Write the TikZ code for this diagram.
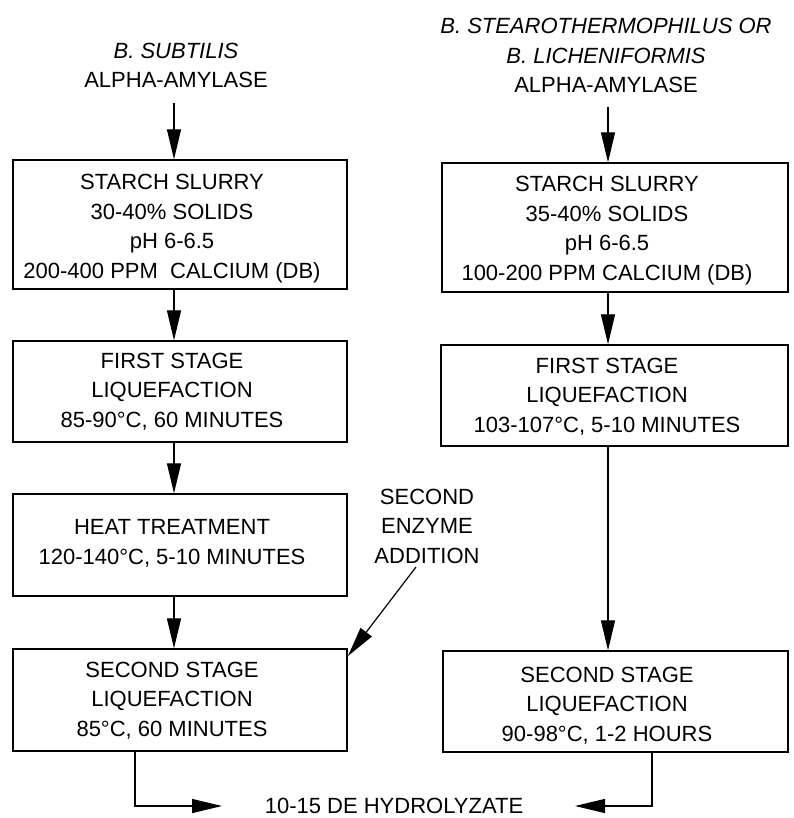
\documentclass[tikz,border=0pt]{standalone}
\usepackage{fontspec}
\setmainfont{Liberation Sans}
\usetikzlibrary{arrows.meta}
\begin{document}
\begin{tikzpicture}[x=1pt,y=-1pt,
  box/.style={draw, line width=1.3pt, inner sep=0pt},
  txt/.style={align=center, anchor=base, inner sep=0pt, font=\fontsize{22}{29.5}\selectfont},
  flow/.style={line width=1.2pt, -{Triangle[length=30pt,width=14pt]}}]
\useasboundingbox (0,0) rectangle (793,818);
% boxes
\node[box, minimum width=334pt, minimum height=129pt] (L1) at (180,224.5) {};
\node[box, minimum width=334pt, minimum height=101pt] (L2) at (180,391.5) {};
\node[box, minimum width=334pt, minimum height=102pt] (L3) at (180,545) {};
\node[box, minimum width=334pt, minimum height=102pt] (L4) at (180,700) {};
\node[box, minimum width=346pt, minimum height=129pt] (R1) at (615,227.5) {};
\node[box, minimum width=347pt, minimum height=101pt] (R2) at (614.5,395.5) {};
\node[box, minimum width=345pt, minimum height=101pt] (R4) at (615.5,701.5) {};
% texts (anchored at the baseline of their last line)
\node[txt] (hL) at (176,88) {\textit{B. SUBTILIS}\\ALPHA-AMYLASE};
\node[txt] (hR) at (606,93) {\textit{B. STEAROTHERMOPHILUS OR}\\\textit{B. LICHENIFORMIS}\\ALPHA-AMYLASE};
\node[txt] (tL1) at (172,278) {STARCH SLURRY\\30-40\% SOLIDS\\pH 6-6.5\\200-400 PPM\ \ CALCIUM (DB)};
\node[txt] (tL2) at (172,427) {FIRST STAGE\\LIQUEFACTION\\85-90°C, 60 MINUTES};
\node[txt] (tL3) at (172,564) {HEAT TREATMENT\\120-140°C, 5-10 MINUTES};
\node[txt] (tL4) at (172,736) {SECOND STAGE\\LIQUEFACTION\\85°C, 60 MINUTES};
\node[txt] (tR1) at (607,280) {STARCH SLURRY\\35-40\% SOLIDS\\pH 6-6.5\\100-200 PPM CALCIUM (DB)};
\node[txt] (tR2) at (607,432) {FIRST STAGE\\LIQUEFACTION\\103-107°C, 5-10 MINUTES};
\node[txt] (tR4) at (607,741) {SECOND STAGE\\LIQUEFACTION\\90-98°C, 1-2 HOURS};
\node[txt] (enz) at (427,563) {SECOND\\ENZYME\\ADDITION};
\node[txt] (out) at (394,813) {10-15 DE HYDROLYZATE};
% coordinates
\coordinate (sL) at (174,103);
\coordinate (sR) at (608,107);
\coordinate (sE) at (416,567);
\coordinate (eE) at (348,656);
\coordinate (oL) at (222,806);
\coordinate (oR) at (575,806);
% connectors
\draw[flow] (sL) -- (sL |- L1.north);
\draw[flow] (sL |- L1.south) -- (sL |- L2.north);
\draw[flow] (sL |- L2.south) -- (sL |- L3.north);
\draw[flow] (sL |- L3.south) -- (sL |- L4.north);
\draw[flow] (sR) -- (sR |- R1.north);
\draw[flow] (sR |- R1.south) -- (sR |- R2.north);
\draw[flow] (sR |- R2.south) -- (sR |- R4.north);
\draw[flow] (sE) -- (eE);
\draw[flow] (L4.south -| 135,0) |- (oL);
\draw[flow] (R4.south -| 652,0) |- (oR);
\end{tikzpicture}
\end{document}
